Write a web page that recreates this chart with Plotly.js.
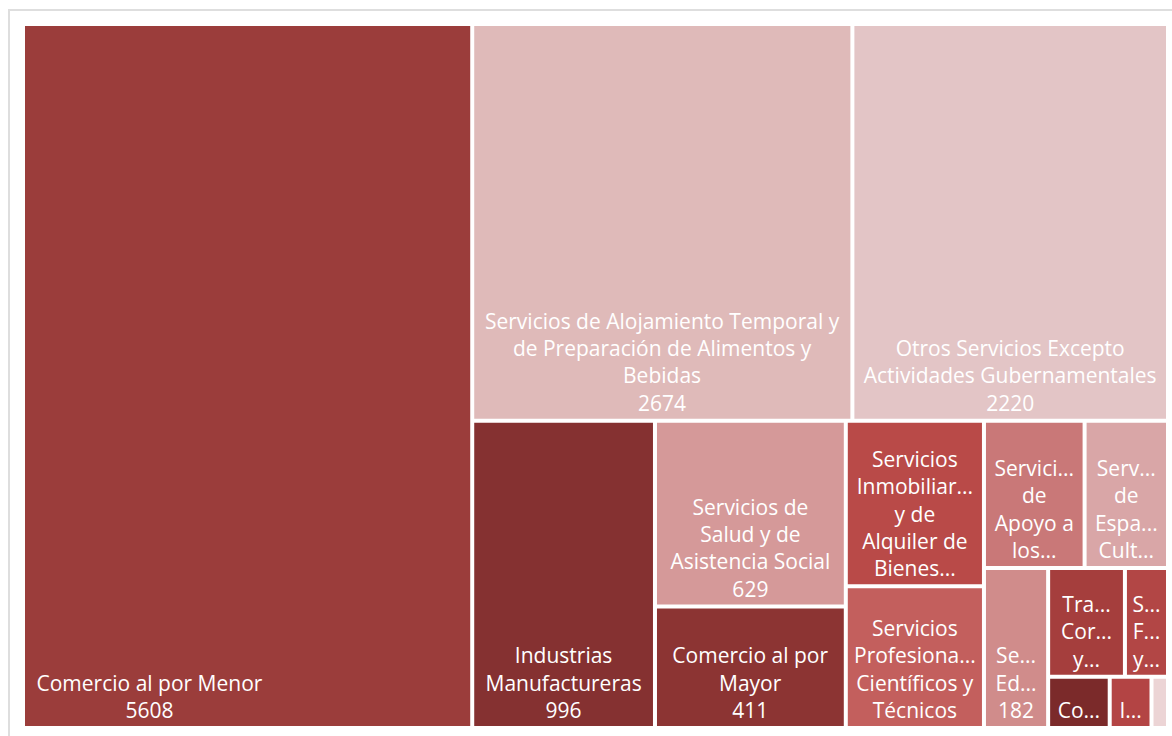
<!DOCTYPE html>
<html>
<head>
<meta charset="utf-8">
<script src="https://cdn.plot.ly/plotly-3.0.1.min.js"></script>
<style>
  body { margin: 0; background: #fff; }
  #frame { position: absolute; left: 8px; top: 9px; width: 1200px; height: 760px;
           border-left: 2px solid #dedede; border-top: 2px solid #dedede; }
  #plot { position: absolute; left: 0; top: 0; width: 1172px; height: 736px; }
</style>
</head>
<body>
<div id="frame"></div>
<div id="plot"></div>
<script>
document.addEventListener("DOMContentLoaded", function () {
    // Sectores y número de unidades
    var sectores = [
        'Comercio al por Menor',
        'Servicios de Alojamiento Temporal y de Preparación de Alimentos y Bebidas',
        'Otros Servicios Excepto Actividades Gubernamentales',
        'Industrias Manufactureras',
        'Servicios de Salud y de Asistencia Social',
        'Comercio al por Mayor',
        'Servicios Inmobiliarios y de Alquiler de Bienes Muebles e Intangibles',
        'Servicios Profesionales, Científicos y Técnicos',
        'Servicios de Apoyo a los Negocios y Manejo de Residuos',
        'Servicios de Esparcimiento Culturales y Deportivos',
        'Servicios Educativos',
        'Transportes, Correos y Almacenamiento',
        'Servicios Financieros y de Seguros',
        'Construcción',
        'Información en Medios Masivos',
        'Agricultura, Cría y Explotación de Animales'
    ];
    var unidades = [5608, 2674, 2220, 996, 629, 411, 406, 347, 263, 218, 182, 148, 83, 56, 38, 15];

    // Bloque del mosaico al que pertenece cada sector (reproduce la disposición original)
    var bloqueDeSector = ['', 'fila1', 'fila1', 'fila2', 'saludMayor', 'saludMayor',
                          'inmProf', 'inmProf', 'apoyoEsp', 'apoyoEsp', 'abajo',
                          'bloqueA', 'bloqueA', 'bloqueB', 'bloqueB', 'bloqueB'];
    var bloques = ['resto', 'fila1', 'fila2', 'saludMayor', 'inmProf', 'derecha',
                   'apoyoEsp', 'abajo', 'bloque', 'bloqueA', 'bloqueB'];
    var padreDeBloque = ['', 'resto', 'resto', 'fila2', 'fila2', 'fila2',
                         'derecha', 'derecha', 'abajo', 'bloque', 'bloque'];

    // Etiquetas tal como se ven en cada rectángulo
    var relleno = '\u00a0'.repeat(36);
    var etiquetas = [
        'Comercio al por Menor' + relleno + '<br>5608' + relleno,
        'Servicios de Alojamiento Temporal y<br>de Preparación de Alimentos y<br>Bebidas<br>2674',
        'Otros Servicios Excepto<br>Actividades Gubernamentales<br>2220',
        'Industrias<br>Manufactureras<br>996',
        'Servicios de<br>Salud y de<br>Asistencia Social<br>629',
        'Comercio al por<br>Mayor<br>411',
        'Servicios<br>Inmobiliar...<br>y de<br>Alquiler de<br>Bienes...',
        'Servicios<br>Profesiona...<br>Científicos y<br>Técnicos',
        'Servici...<br>de<br>Apoyo a<br>los...',
        'Serv...<br>de<br>Espa...<br>Cult...',
        'Se...<br>Ed...<br>182',
        'Tra...<br>Cor...<br>y...',
        'S...<br>F...<br>y...',
        'Co...',
        'I...',
        ''
    ];
    var colores = ['#9b3d3b', '#dfbab9', '#e3c5c6', '#853131', '#d59999', '#8c3433',
                   '#b94a48', '#c35f5d', '#c97878', '#d9a6a7', '#d08c8b', '#a53e3d',
                   '#b24645', '#7b2a2a', '#b34444', '#ecd4d5'];

    var ids = sectores.concat(bloques);
    var parents = bloqueDeSector.concat(padreDeBloque);
    var values = unidades.concat(bloques.map(function () { return 0; }));
    var text = etiquetas.concat(bloques.map(function () { return ''; }));
    var colors = colores.concat(bloques.map(function () { return 'rgba(0,0,0,0)'; }));
    var lineWidths = sectores.map(function () { return 2; }).concat(bloques.map(function () { return 0; }));

    var trace = {
        type: 'treemap',
        ids: ids,
        labels: ids,
        parents: parents,
        values: values,
        branchvalues: 'remainder',
        sort: false,
        text: text,
        texttemplate: '%{text}',
        textposition: 'bottom center',
        textfont: { family: 'Open Sans, sans-serif', size: 21, color: '#ffffff' },
        marker: { colors: colors, line: { width: lineWidths, color: '#ffffff' },
                  pad: { t: 0, l: 0, r: 0, b: 0 } },
        tiling: { packing: 'slice-dice', pad: 2 },
        pathbar: { visible: false },
        root: { color: 'rgba(0,0,0,0)' },
        hoverinfo: 'label+value'
    };

    var layout = {
        margin: { l: 24, r: 5, t: 25, b: 9 },
        paper_bgcolor: 'rgba(0,0,0,0)',
        showlegend: false
    };

    Plotly.newPlot('plot', [trace], layout, { displayModeBar: false });
});
</script>
</body>
</html>
